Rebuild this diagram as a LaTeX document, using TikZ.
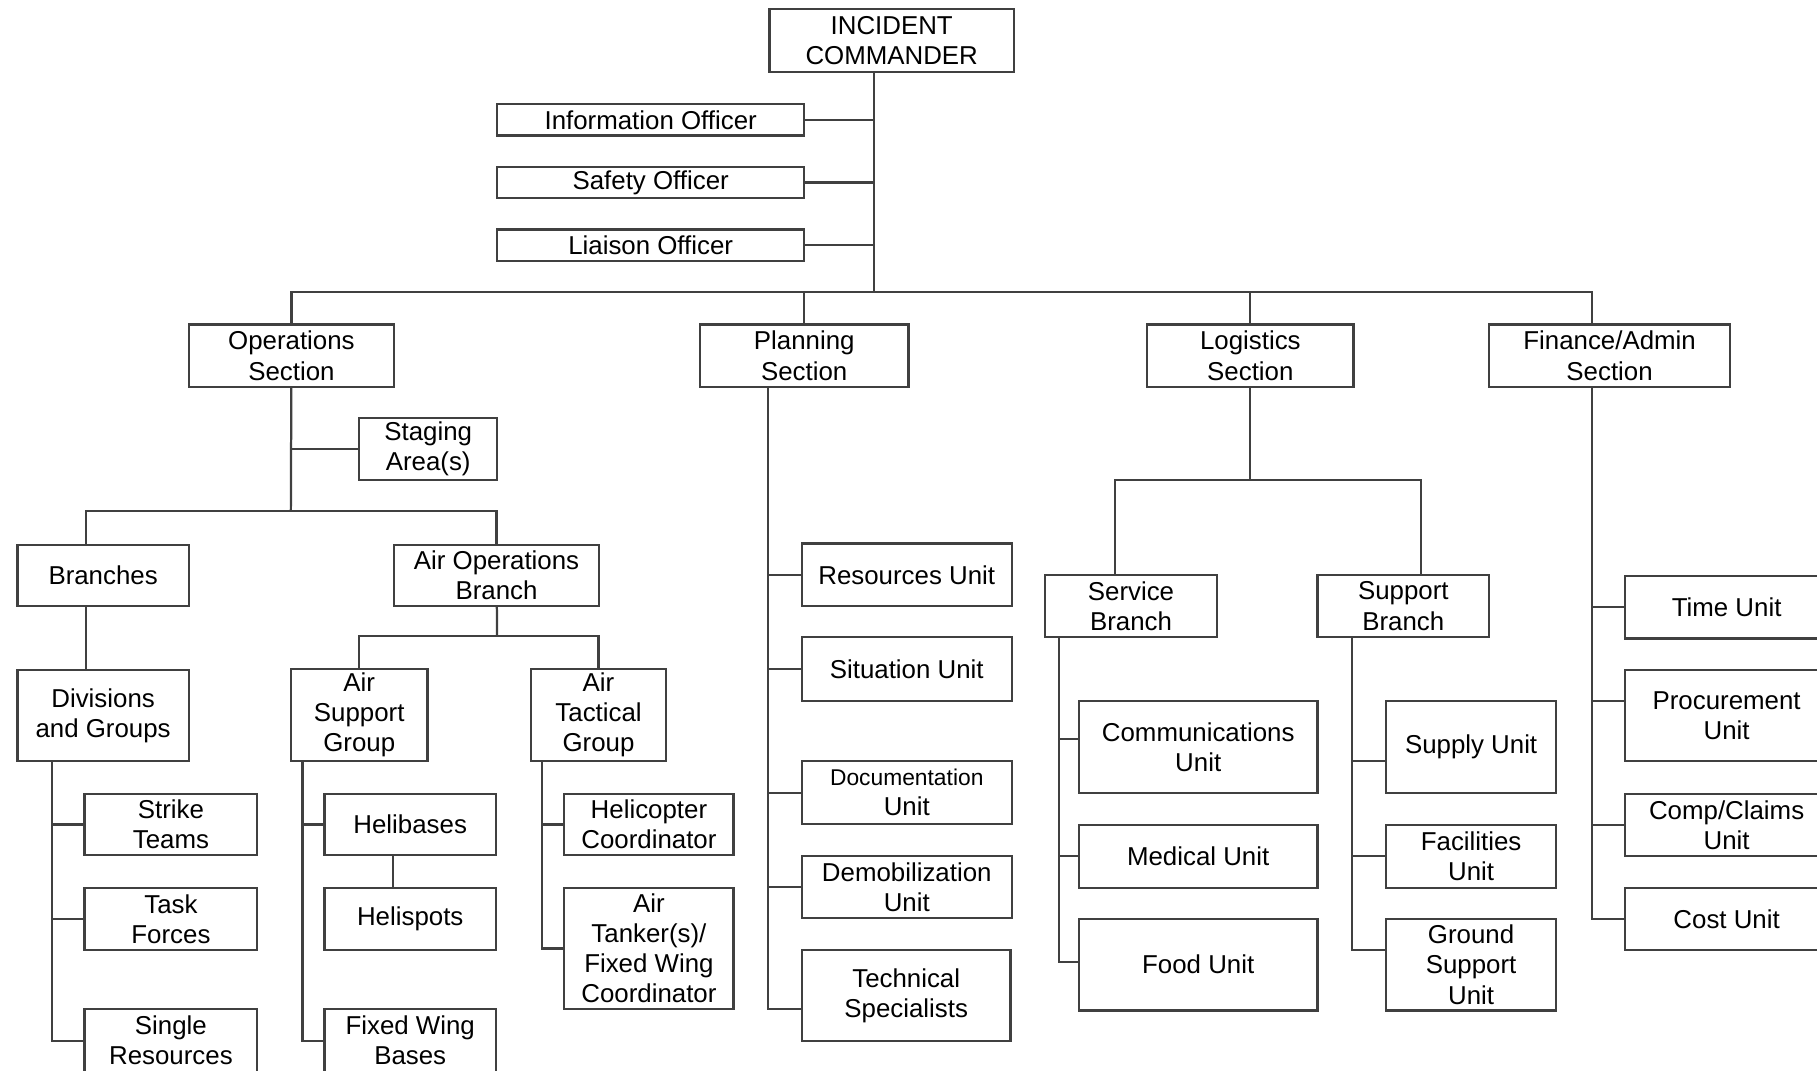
\documentclass[tikz,border=0pt]{standalone}
\usepackage{fontspec}
\setmainfont{Liberation Sans}
\usepackage{tikz}
\usetikzlibrary{positioning}
\usepackage{xcolor}

\tikzset{
  box/.style={draw=black!75, line width=1.1pt, inner sep=0pt, align=center,
    fill=white, font=\fontsize{12.7}{14.8}\selectfont},
  sz/.style 2 args={minimum width=#1*0.02cm, minimum height=#2*0.02cm},
  link/.style={draw=black!75, line width=1.1pt}
}

\begin{document}
\begin{tikzpicture}[x=0.02cm, y=-0.02cm]
        \useasboundingbox (0,0) rectangle (1568,924);
        \fill[white] (0,0) rectangle (1568,924);
        \clip (0,0) rectangle (1568,924);

        % top of the chart
        \node[box, sz={211}{54}] (ic) at (769.5, 35) {INCIDENT\\COMMANDER};
        \node[box, sz={265}{27}] (info) at (561.5, 103.5) {Information Officer};
        \node[box, sz={265}{27}] (safety) at (561.5, 157.5) {Safety Officer};
        \node[box, sz={265}{27}] (liaison) at (561.5, 211.5) {Liaison Officer};

        % sections
        \node[box, sz={177}{54}] (ops) at (251.5, 307) {Operations\\Section};
        \node[box, sz={180}{54}] (plan) at (694, 307) {Planning\\Section};
        \node[box, sz={178}{54}] (log) at (1079, 307) {Logistics\\Section};
        \node[box, sz={208}{54}] (fin) at (1389, 307) {Finance/Admin\\Section};

        % operations
        \node[box, sz={119}{53}] (stage) at (369.5, 387.5) {Staging\\Area(s)};
        \node[box, sz={148}{53}] (branch) at (89, 496.5) {Branches};
        \node[box, sz={177}{53}] (air) at (428.5, 496.5) {Air Operations\\Branch};
        \node[box, sz={148}{79}] (div) at (89, 617.5) {Divisions\\and Groups};
        \node[box, sz={118}{80}] (asg) at (310, 617) {Air\\Support\\Group};
        \node[box, sz={117}{80}] (atg) at (516.5, 617) {Air\\Tactical\\Group};
        \node[box, sz={149}{53}] (strike) at (147.5, 711.5) {Strike\\Teams};
        \node[box, sz={149}{54}] (task) at (147.5, 793) {Task\\Forces};
        \node[box, sz={149}{54}] (single) at (147.5, 898) {Single\\Resources};
        \node[box, sz={148}{53}] (heli) at (354, 711.5) {Helibases};
        \node[box, sz={148}{54}] (spots) at (354, 793) {Helispots};
        \node[box, sz={148}{54}] (fwb) at (354, 898) {Fixed Wing\\Bases};
        \node[box, sz={146}{53}] (helico) at (560, 711.5) {Helicopter\\Coordinator};
        \node[box, sz={146}{105}] (tanker) at (560, 818.5) {Air\\Tanker(s)/\\Fixed Wing\\Coordinator};

        % planning
        \node[box, sz={181}{54}] (res) at (782.5, 496) {Resources Unit};
        \node[box, sz={181}{55}] (sit) at (782.5, 577.5) {Situation Unit};
        \node[box, sz={181}{54}] (doc) at (782.5, 684) {\fontsize{11.2}{13.5}\selectfont Documentation\\Unit};
        \node[box, sz={181}{53}] (demob) at (782.5, 765.5) {Demobilization\\Unit};
        \node[box, sz={180}{78}] (tech) at (782, 859) {Technical\\Specialists};

        % logistics
        \node[box, sz={148}{54}] (serv) at (976, 523) {Service\\Branch};
        \node[box, sz={148}{54}] (supp) at (1211, 523) {Support\\Branch};
        \node[box, sz={206}{79}] (comm) at (1034, 644.5) {Communications\\Unit};
        \node[box, sz={206}{54}] (med) at (1034, 739) {Medical Unit};
        \node[box, sz={206}{79}] (food) at (1034, 832.5) {Food Unit};
        \node[box, sz={147}{79}] (supply) at (1269.5, 644.5) {Supply Unit};
        \node[box, sz={147}{54}] (fac) at (1269.5, 739) {Facilities\\Unit};
        \node[box, sz={147}{79}] (ground) at (1269.5, 832.5) {Ground\\Support\\Unit};

        % finance
        \node[box, sz={176}{54}] (time) at (1490, 524) {Time Unit};
        \node[box, sz={176}{79}] (proc) at (1490, 617.5) {Procurement\\Unit};
        \node[box, sz={176}{54}] (comp) at (1490, 712) {Comp/Claims\\Unit};
        \node[box, sz={176}{54}] (cost) at (1490, 793) {Cost Unit};

        % junctions
        \coordinate (icx) at (754, 252);
        \coordinate (finx) at (1374, 252);
        \coordinate (opsj) at (251, 441);
        \coordinate (brx) at (74, 441);
        \coordinate (airj) at (429, 549);
        \coordinate (divx) at (45, 657);
        \coordinate (asgx) at (261, 657);
        \coordinate (spotx) at (339, 738);
        \coordinate (atgx) at (468, 657);
        \coordinate (planx) at (663, 334);
        \coordinate (techj) at (663, 871);
        \coordinate (logj) at (1079, 414);
        \coordinate (servx) at (962, 414);
        \coordinate (suppx) at (1226, 414);
        \coordinate (sbx) at (914, 550);
        \coordinate (commj) at (914, 638);
        \coordinate (foodj) at (914, 830);
        \coordinate (spx) at (1167, 550);
        \coordinate (supplyj) at (1167, 657);
        \coordinate (groundj) at (1167, 820);
        \coordinate (procj) at (1374, 605);
        \coordinate (costj) at (1374, 793);

        % commander and officers
        \draw[link] (ic.south -| icx) -- (icx);
        \draw[link] (info) -- (info -| icx);
        \draw[link] (safety) -- (safety -| icx);
        \draw[link] (liaison) -- (liaison -| icx);
        \draw[link] (ops) |- (finx) -- (fin.north -| finx);
        \draw[link] (plan) -- (plan |- finx);
        \draw[link] (log) -- (log |- finx);

        % operations lines
        \draw[link] (ops) -- (opsj);
        \draw[link] (stage) -- (stage -| opsj);
        \draw[link] (branch.north -| brx) -- (brx) -- (air.north |- brx) -- (air);
        \draw[link] (branch.south -| brx) -- (div.north -| brx);
        \draw[link] (air) -- (airj);
        \draw[link] (asg) |- (airj) -| (atg);
        \draw[link] (divx) |- (single);
        \draw[link] (strike) -- (strike -| divx);
        \draw[link] (task) -- (task -| divx);
        \draw[link] (asgx) |- (fwb);
        \draw[link] (heli) -- (heli -| asgx);
        \draw[link] (spotx) -- (spots.north -| spotx);
        \draw[link] (atgx) |- (tanker);
        \draw[link] (helico) -- (helico -| atgx);

        % planning lines
        \draw[link] (planx) -- (techj) -- (techj -| tech.west);
        \draw[link] (res) -- (res -| planx);
        \draw[link] (sit) -- (sit -| planx);
        \draw[link] (doc) -- (doc -| planx);
        \draw[link] (demob) -- (demob -| planx);

        % logistics lines
        \draw[link] (log) -- (logj);
        \draw[link] (serv.north -| servx) -- (servx) -- (suppx) -- (supp.north -| suppx);
        \draw[link] (sbx) -- (foodj) -- (foodj -| food.west);
        \draw[link] (commj) -- (commj -| comm.west);
        \draw[link] (med) -- (med -| sbx);
        \draw[link] (spx) -- (groundj) -- (groundj -| ground.west);
        \draw[link] (supplyj) -- (supplyj -| supply.west);
        \draw[link] (fac) -- (fac -| spx);

        % finance lines
        \draw[link] (fin.south -| finx) -- (costj) -- (cost);
        \draw[link] (time) -- (time -| finx);
        \draw[link] (procj) -- (procj -| proc.west);
        \draw[link] (comp) -- (comp -| finx);
    \end{tikzpicture}
\end{document}
